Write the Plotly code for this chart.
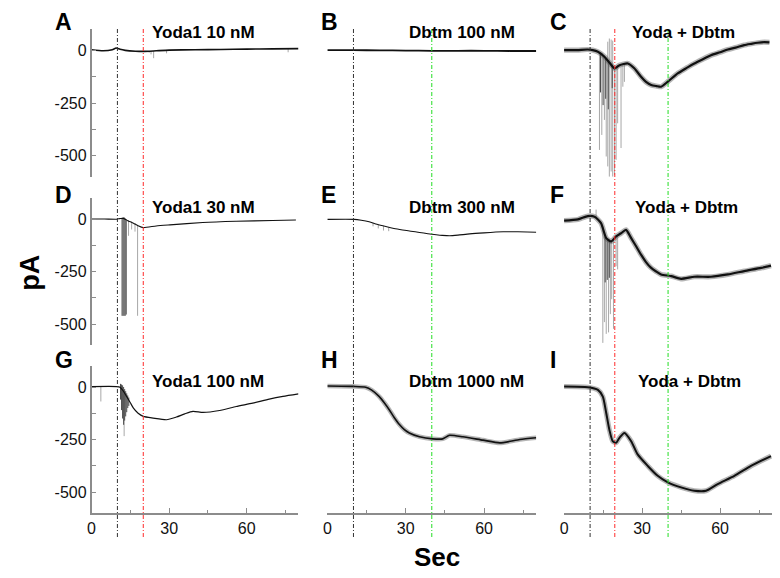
import numpy as np
import plotly.graph_objects as go

# ---- traces (sec, pA) ----
t_a = [0, 4.5, 8, 9.5, 11, 13, 17, 20, 25, 30, 40, 50, 60, 70, 80]
i_a = [2, -3, 2, 10, 4, -1, -5, -6, -3, 0, 2, 3, 5, 6, 7]

t_b = [0, 10, 20, 30, 40, 50, 60, 70, 80]
i_b = [0, 0, -1, -2, -3, -3, -3, -4, -4]

t_c = [0, 5, 9, 11, 13, 15.5, 17.5, 19.4, 21.3, 24.5, 27, 29.6, 31.5, 33.5, 35.5,
       37.3, 39.9, 43.7, 47, 50.1, 53, 56.5, 60, 63, 66, 69.3, 72, 74.5, 77, 79]
i_c = [0, 0, 3, 0, -8, -31, -60, -86, -71, -63, -86, -126, -150, -165, -170,
       -173, -149, -110, -85, -63, -45, -24, -10, 3, 12, 24, 30, 35, 38, 37]

t_d = [0, 5, 9.7, 11, 12.3, 14, 16.2, 18, 20, 25, 30.3, 43, 55.9, 70, 79]
i_d = [0, 0, -1, 2, 3, -8, -20, -32, -41, -33, -28, -17, -11, -7, -5]

t_e = [0, 10.3, 13, 16, 19, 22.4, 25.5, 28.8, 32, 35.3, 38.5, 41.7, 44, 46.8,
       50, 54.5, 60, 67.3, 73, 80]
i_e = [-2, -2, -6, -13, -25, -36, -45, -52, -58, -64, -70, -75, -78, -80,
       -77, -71, -66, -61, -61, -63]

t_f = [0, 5.3, 9.1, 11.7, 14.2, 16.2, 18.1, 20, 21.9, 23.8, 25.8, 27.7, 29.6,
       31.5, 33.5, 35.4, 37.3, 41.2, 45, 50.1, 56.5, 63, 69.3, 75.8, 79.6]
i_f = [-8, -2, 14, 11, -20, -91, -107, -83, -68, -52, -91, -130, -170,
       -205, -233, -250, -264, -272, -285, -275, -275, -264, -248, -233, -222]

t_g = [0, 9.7, 11, 12.3, 13.6, 15, 16.2, 18, 20, 23.8, 29, 32.8, 36, 39.2,
       43.1, 49.5, 55.9, 62.3, 68.7, 74, 80]
i_g = [2, 2, -1, -20, -46, -75, -101, -125, -140, -148, -156, -143, -128, -116,
       -121, -112, -93, -77, -58, -45, -33]

t_h = [0, 10, 14.7, 17, 19.9, 21.8, 23.7, 25.6, 27.6, 29.5, 31.4, 35.3, 40.4,
       44.2, 46.8, 51.9, 59.6, 66, 73.7, 80]
i_h = [5, 3, -1, -15, -46, -75, -108, -145, -179, -203, -219, -237, -247,
       -247, -230, -237, -253, -266, -250, -242]

t_i = [0, 9.1, 13, 14.9, 16.2, 17.4, 18.7, 20, 21.3, 23.2, 25.8, 28.3, 32.2,
       36, 39.9, 45, 50.1, 54.6, 59.1, 65.5, 71.9, 79.6]
i_i = [2, -1, -14, -46, -124, -203, -258, -266, -242, -219, -258, -321, -376,
       -423, -454, -478, -494, -494, -462, -423, -376, -329]

# ---- transient spikes: time, top, bottom (pA) ----
sp_a_t = [22.3, 23.0, 24.0, 29.0, 76.0]
sp_a_top = [-4, -4, -4, -2, 6]
sp_a_bot = [-12, -20, -38, -15, -10]

sp_c_t = [13.6, 14.5, 15.5, 16.2, 16.8, 17.4, 18.1, 18.7, 19.4, 20.0, 20.6, 21.9, 22.6, 23.2]
sp_c_top = [-10, -15, -25, -35, 40, 55, 50, 45, -80, -80, -70, -65, -63, -63]
sp_c_bot = [-472, -401, -330, -503, -550, -598, -574, -598, -590, -519, -346, -463, -173, -150]
dk_c_t = [14.0, 15.0, 16.0, 17.0, 18.5]
dk_c_top = [-12, -25, -40, -55, -75]
dk_c_bot = [-200, -260, -230, -280, -180]

sp_d_t = [14.3, 15.5, 16.8, 17.8]
sp_d_top = [-5, -12, -20, -28]
sp_d_bot = [-80, -50, -60, -461]
dk_d_t = [11.8, 12.2, 12.6, 13.0, 13.4]
dk_d_top = [3, 8, 8, 3, -2]
dk_d_bot = [-461, -461, -461, -461, -455]

sp_e_t = [17.5, 19.5, 21.5, 23.5]
sp_e_top = [-18, -27, -33, -40]
sp_e_bot = [-35, -45, -55, -58]

sp_f_t = [12.3, 14.9, 15.5, 16.2, 17.1, 17.8, 18.3, 19.0, 20.0, 20.6]
sp_f_top = [45, -40, -70, -90, -100, -105, -100, -95, -83, -78]
sp_f_bot = [5, -590, -491, -547, -540, -453, -382, -523, -225, -240]
dk_f_t = [15.8, 16.6, 17.4]
dk_f_top = [-85, -100, -105]
dk_f_bot = [-302, -290, -280]

sp_g_t = [3.6, 12.6]
sp_g_top = [2, -20]
sp_g_bot = [-69, -234]
dk_g_t = [11.2, 11.6, 12.0, 12.4, 12.8, 13.2, 13.6, 14.0, 14.4]
dk_g_top = [15, 12, 8, 0, -10, -20, -30, -40, -50]
dk_g_bot = [-60, -110, -150, -180, -160, -140, -120, -100, -90]

titles = ["Yoda1 10 nM", "Dbtm 100 nM", "Yoda + Dbtm",
          "Yoda1 30 nM", "Dbtm 300 nM", "Yoda + Dbtm",
          "Yoda1 100 nM", "Dbtm 1000 nM", "Yoda + Dbtm"]
letters = ["A", "B", "C", "D", "E", "F", "G", "H", "I"]
x_ticks = [0, 30, 60]
y_ticks = [-500, -250, 0]

W, H = 780, 578
col_px = [(88, 296), (325, 535), (563, 772)]
row_px = [(29, 177), (198, 345), (366, 513)]
letter_x = [49, 317, 547]
title_x = [[147, 405, 629], [147, 405, 632], [147, 405, 635]]
title_y = [33, 208, 381]
letter_y = [22, 195, 360]

# markers per column: (time, colour)
col_marks = [[(10, "#333333"), (20, "#ff2a2a")],
             [(10, "#333333"), (40, "#22dd22")],
             [(10, "#333333"), (19.5, "#ff2a2a"), (40, "#22dd22")]]

traces = [(t_a, i_a, 1.6, False), (t_b, i_b, 1.8, False), (t_c, i_c, 2.2, True),
          (t_d, i_d, 1.1, False), (t_e, i_e, 1.1, False), (t_f, i_f, 2.2, True),
          (t_g, i_g, 1.2, False), (t_h, i_h, 1.6, True), (t_i, i_i, 2.0, True)]

light = {0: (sp_a_t, sp_a_top, sp_a_bot), 2: (sp_c_t, sp_c_top, sp_c_bot),
         3: (sp_d_t, sp_d_top, sp_d_bot), 4: (sp_e_t, sp_e_top, sp_e_bot),
         5: (sp_f_t, sp_f_top, sp_f_bot), 6: (sp_g_t, sp_g_top, sp_g_bot)}
dark = {2: (dk_c_t, dk_c_top, dk_c_bot), 3: (dk_d_t, dk_d_top, dk_d_bot),
        5: (dk_f_t, dk_f_top, dk_f_bot), 6: (dk_g_t, dk_g_top, dk_g_bot)}


def seg_xy(ts, tops, bots):
    xs, ys = [], []
    for t, a, b in zip(ts, tops, bots):
        xs += [t, t, None]
        ys += [a, b, None]
    return xs, ys


fig = go.Figure()
layout = {}
AX_COL = "#8c8c8c"
FONT = "Liberation Sans, Arial, sans-serif"

for p in range(9):
    r, c = divmod(p, 3)
    sfx = "" if p == 0 else str(p + 1)
    xa, ya = "x" + sfx, "y" + sfx
    t, v, lw, noisy = traces[p]

    for group, colr, w in ((light, "#a8a8a8", 1), (dark, "#4a4a4a", 1)):
        if p in group:
            sx, sy = seg_xy(*group[p])
            fig.add_trace(go.Scatter(x=sx, y=sy, mode="lines", xaxis=xa, yaxis=ya,
                                     line=dict(color=colr, width=w),
                                     showlegend=False, hoverinfo="skip"))
    if noisy:
        fig.add_trace(go.Scatter(x=t, y=v, mode="lines", xaxis=xa, yaxis=ya,
                                 line=dict(color="rgba(90,90,90,0.45)", width=lw + 3,
                                           shape="spline", smoothing=0.6),
                                 showlegend=False, hoverinfo="skip"))
    fig.add_trace(go.Scatter(x=t, y=v, mode="lines", xaxis=xa, yaxis=ya,
                             line=dict(color="#111111", width=lw,
                                       shape="spline", smoothing=0.6),
                             showlegend=False, hoverinfo="skip"))

    x0, x1 = col_px[c]
    y0, y1 = row_px[r]
    bottom = r == 2
    left = c == 0
    layout["xaxis" + sfx] = dict(
        domain=[x0 / W, x1 / W], range=[0, 80], anchor=ya,
        showgrid=False, zeroline=False, visible=bottom,
        showline=bottom, linecolor=AX_COL, linewidth=1.5,
        ticks="inside", ticklen=5, tickwidth=1.2, tickcolor=AX_COL,
        tickvals=x_ticks, ticktext=[str(v) for v in x_ticks],
        minor=dict(dtick=15, tick0=0, ticks="inside", ticklen=3, tickcolor=AX_COL),
        tickfont=dict(family=FONT, size=16, color="#111"),
        fixedrange=True,
    )
    layout["yaxis" + sfx] = dict(
        domain=[1 - y1 / H, 1 - y0 / H], range=[-600, 100], anchor=xa,
        showgrid=False, zeroline=False, visible=left,
        showline=left, linecolor=AX_COL, linewidth=1.5,
        ticks="inside", ticklen=5, tickwidth=1.2, tickcolor=AX_COL,
        tickvals=y_ticks, ticktext=[str(v) for v in y_ticks],
        minor=dict(dtick=125, tick0=0, ticks="inside", ticklen=5, tickcolor=AX_COL),
        tickfont=dict(family=FONT, size=16, color="#111"),
        fixedrange=True,
    )

shapes = []
annotations = []
for c in range(3):
    xa = "x" if c == 0 else "x" + str(c + 1)
    for tm, colr in col_marks[c]:
        shapes.append(dict(type="line", xref=xa, yref="paper", x0=tm, x1=tm,
                           y0=1 - 537 / H, y1=1 - 27 / H,
                           line=dict(color=colr, width=1, dash="4px,2px,1px,2px")))

for p in range(9):
    r, c = divmod(p, 3)
    annotations.append(dict(text="<b>%s</b>" % letters[p], xref="paper", yref="paper",
                            x=letter_x[c] / W, y=1 - letter_y[r] / H,
                            xanchor="left", yanchor="middle", showarrow=False,
                            font=dict(family=FONT, size=23, color="#000")))
    annotations.append(dict(text="<b>%s</b>" % titles[p], xref="paper", yref="paper",
                            x=title_x[r][c] / W, y=1 - title_y[r] / H,
                            xanchor="left", yanchor="middle", showarrow=False,
                            font=dict(family=FONT, size=17, color="#000")))

annotations.append(dict(text="<b>pA</b>", xref="paper", yref="paper",
                        x=26 / W, y=1 - 273 / H, textangle=-90, showarrow=False,
                        xanchor="center", yanchor="middle",
                        font=dict(family=FONT, size=27, color="#000")))
annotations.append(dict(text="<b>Sec</b>", xref="paper", yref="paper",
                        x=435 / W, y=1 - 557 / H, showarrow=False,
                        xanchor="center", yanchor="middle",
                        font=dict(family=FONT, size=26, color="#000")))

fig.update_layout(
    width=W, height=H, margin=dict(l=0, r=0, t=0, b=0),
    paper_bgcolor="white", plot_bgcolor="white",
    shapes=shapes, annotations=annotations, showlegend=False,
    **layout,
)

# drop the default page margin so the figure sits at the window corner
fig.write_html("out.html", config={"displayModeBar": False},
               post_script="document.body.style.margin='0';")
